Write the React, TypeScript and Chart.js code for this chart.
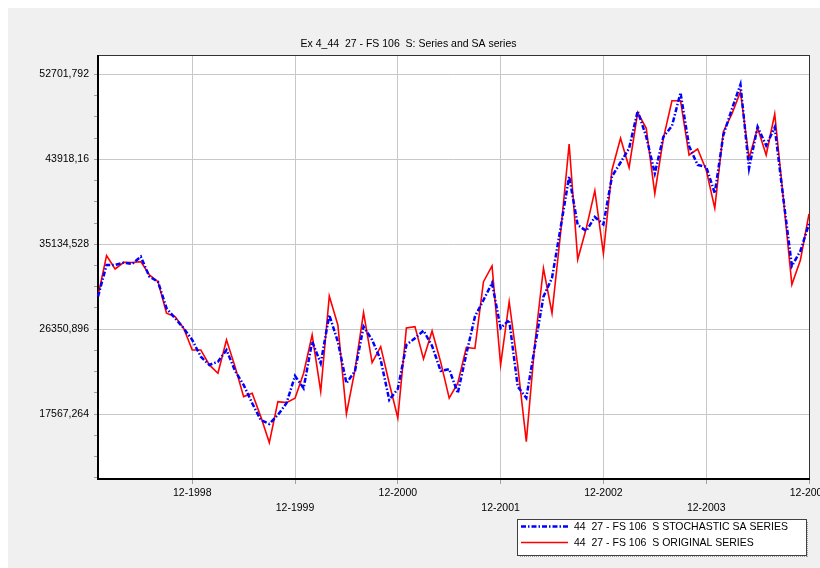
import React, { useEffect, useRef } from 'react';
import { Chart, registerables } from 'chart.js';

Chart.register(...registerables);

const TITLE = 'Ex 4_44  27 - FS 106  S: Series and SA series';
const SA_LABEL = '44  27 - FS 106  S STOCHASTIC SA SERIES';
const ORIG_LABEL = '44  27 - FS 106  S ORIGINAL SERIES';

const years = [1998, 1999, 2000, 2001, 2002, 2003, 2004];
const monthNums = ['01', '02', '03', '04', '05', '06', '07', '08', '09', '10', '11', '12'];
const months: string[] = years.flatMap((y) => monthNums.map((m) => `${m}-${y}`));

const saSeries = [
  29720, 32995, 32995, 33233, 33099, 33853, 31786, 31270, 28521, 27488, 26454, 25245,
  23519, 22662, 23003, 24212, 22042, 20595, 18704, 16978, 16565, 17495, 18704, 21525,
  20254, 25069, 22837, 27828, 25069, 20771, 22042, 26620, 25245, 23178, 19045, 20182,
  24728, 25421, 26206, 24625, 22042, 22217, 19737, 23798, 27653, 29379, 31135, 26454,
  27312, 20419, 19252, 24553, 29720, 31652, 36819, 42141, 37129, 36509, 37956, 37181,
  42141, 43587, 45055, 48909, 46254, 42471, 46254, 47359, 50800, 45292, 43329, 43153,
  40405, 46429, 49116, 51648, 42988, 47287, 45344, 47225, 39888, 32892, 34442, 37232,
];

const originalSeries = [
  29792, 33956, 32582, 33274, 33254, 33336, 31962, 31270, 28004, 27653, 26454, 24212,
  24212, 22662, 21804, 25245, 22486, 19386, 19737, 17319, 14632, 18869, 18766, 19221,
  21804, 25762, 19903, 29792, 26795, 17598, 22145, 28066, 22899, 24553, 20771, 17185,
  26485, 26620, 23282, 26175, 22972, 19221, 20771, 24470, 24367, 31270, 32892, 22662,
  29203, 22558, 14736, 24904, 32654, 28004, 36271, 45499, 33564, 36788, 40673, 34184,
  42812, 46088, 43071, 48754, 47122, 40384, 46088, 49974, 49974, 44362, 44982, 42812,
  38855, 46770, 48599, 50904, 44021, 47153, 44362, 48599, 39919, 30980, 33512, 38266,
];

const yMajorTicks = [17567.264, 26350.896, 35134.528, 43918.16, 52701.792];
const yTickLabels = ['17567,264', '26350,896', '35134,528', '43918,16', '52701,792'];
const xTickLabels = ['12-1998', '12-1999', '12-2000', '12-2001', '12-2002', '12-2003', '12-2004'];

const Y_MIN = 10870;
const Y_MAX = 54700;

const FONT = '"Liberation Sans", Arial, sans-serif';
const GRID = '#c8c8c8';
const TICK = '#a0a0a0';
const CLEAR = 'rgba(0,0,0,0)';

const yStep = yMajorTicks[1] - yMajorTicks[0];
const yAllTicks: { value: number; major: boolean }[] = [];
for (let k = -3; k <= 6 * 4; k++) {
  const v = yMajorTicks[0] + (k * yStep) / 4;
  if (v >= Y_MIN && v <= Y_MAX) yAllTicks.push({ value: v, major: k % 4 === 0 && k >= 0 && k / 4 < yMajorTicks.length });
}

const isDec = (i: number) => months[i] !== undefined && months[i].startsWith('12-');
const majorIndex = (v: number) => yMajorTicks.findIndex((t) => Math.abs(t - v) < 1e-3);

const bgPlugin = {
  id: 'bg',
  beforeDraw(chart: any) {
    const { ctx, chartArea } = chart;
    ctx.save();
    ctx.fillStyle = '#f0f0f0';
    ctx.fillRect(0, 0, chart.width, chart.height);
    ctx.fillStyle = '#ffffff';
    ctx.fillRect(chartArea.left, chartArea.top, chartArea.right - chartArea.left, chartArea.bottom - chartArea.top);
    ctx.restore();
  },
};

const framePlugin = {
  id: 'frame',
  beforeDatasetsDraw(chart: any) {
    const { ctx, chartArea: a } = chart;
    ctx.save();
    ctx.strokeStyle = '#333333';
    ctx.lineWidth = 1;
    ctx.beginPath();
    ctx.moveTo(a.left, a.top + 0.5);
    ctx.lineTo(a.right + 1, a.top + 0.5);
    ctx.moveTo(a.right + 0.5, a.top);
    ctx.lineTo(a.right + 0.5, a.bottom);
    ctx.stroke();
    ctx.strokeStyle = '#000000';
    ctx.lineWidth = 2;
    ctx.beginPath();
    ctx.moveTo(a.left, a.top);
    ctx.lineTo(a.left, a.bottom + 1);
    ctx.moveTo(a.left - 1, a.bottom);
    ctx.lineTo(a.right + 1, a.bottom);
    ctx.stroke();
    ctx.restore();
  },
};

const legendPlugin = {
  id: 'boxLegend',
  afterDraw(chart: any) {
    const { ctx } = chart;
    const x0 = 509;
    const y0 = 511;
    const w = 289;
    const h = 36;
    ctx.save();
    ctx.strokeStyle = '#a0a0a0';
    ctx.lineWidth = 1;
    ctx.setLineDash([1, 1]);
    ctx.beginPath();
    ctx.moveTo(x0 + 3, y0 + h + 1.5);
    ctx.lineTo(x0 + w + 2, y0 + h + 1.5);
    ctx.moveTo(x0 + w + 1.5, y0 + 3);
    ctx.lineTo(x0 + w + 1.5, y0 + h + 2);
    ctx.stroke();
    ctx.setLineDash([]);
    ctx.fillStyle = '#ffffff';
    ctx.fillRect(x0, y0, w, h);
    ctx.strokeStyle = '#404040';
    ctx.strokeRect(x0 + 0.5, y0 + 0.5, w, h);
    const ds = chart.data.datasets;
    const rows = [y0 + 7.5, y0 + 23.5];
    ds.forEach((d: any, i: number) => {
      ctx.strokeStyle = d.borderColor;
      ctx.lineWidth = d.borderWidth;
      ctx.setLineDash(d.borderDash || []);
      ctx.beginPath();
      ctx.moveTo(x0 + 4, rows[i]);
      ctx.lineTo(x0 + 51, rows[i]);
      ctx.stroke();
      ctx.setLineDash([]);
      ctx.fillStyle = '#000000';
      ctx.font = `10.5px ${FONT}`;
      ctx.textBaseline = 'middle';
      ctx.textAlign = 'left';
      ctx.fillText(d.label, x0 + 57, rows[i] + 0.5);
    });
    ctx.restore();
  },
};

export default function App() {
  const canvasRef = useRef<HTMLCanvasElement | null>(null);

  useEffect(() => {
    if (!canvasRef.current) return;
    const chart = new Chart(canvasRef.current, {
      type: 'line',
      data: {
        labels: months,
        datasets: [
          {
            label: SA_LABEL,
            data: saSeries,
            borderColor: '#0000ff',
            borderWidth: 2.5,
            borderDash: [5, 2, 1.5, 2],
            pointRadius: 0,
            tension: 0,
            fill: false,
          },
          {
            label: ORIG_LABEL,
            data: originalSeries,
            borderColor: '#ff0000',
            borderWidth: 1.6,
            pointRadius: 0,
            tension: 0,
            fill: false,
          },
        ],
      },
      options: {
        animation: false,
        responsive: false,
        maintainAspectRatio: false,
        devicePixelRatio: 1,
        layout: { padding: { left: 0, right: 11, top: 0, bottom: 0 } },
        plugins: {
          legend: { display: false },
          tooltip: { enabled: false },
          title: {
            display: true,
            text: TITLE,
            color: '#000000',
            font: { family: FONT, size: 10.5, weight: 'normal' as any },
            padding: { top: 29.7, bottom: 4.7 },
          },
        },
        scales: {
          x: {
            type: 'category',
            offset: false,
            grid: {
              color: (c: any) => (isDec(c.index) ? GRID : CLEAR),
              tickColor: (c: any) => (isDec(c.index) ? TICK : CLEAR),
              tickLength: 5,
            },
            border: { display: false },
            ticks: {
              autoSkip: false,
              maxRotation: 0,
              minRotation: 0,
              padding: 1.5,
              color: '#000000',
              font: { family: FONT, size: 10.5, lineHeight: 1.43 },
              callback: (_v: any, i: number) => {
                if (!isDec(i)) return '';
                const k = years.indexOf(Number(months[i].slice(3)));
                const lbl = xTickLabels[k];
                return k % 2 === 0 ? lbl : ['', lbl];
              },
            },
            afterFit: (s: any) => {
              s.height = 89;
              s.paddingLeft = 0;
              s.paddingRight = 0;
            },
          },
          y: {
            type: 'linear',
            min: Y_MIN,
            max: Y_MAX,
            afterBuildTicks: (s: any) => {
              s.ticks = yAllTicks.map((t) => ({ value: t.value, major: t.major }));
            },
            grid: {
              color: (c: any) => (c.tick && majorIndex(c.tick.value) >= 0 ? GRID : CLEAR),
              tickColor: TICK,
              tickLength: 4,
            },
            border: { display: false },
            ticks: {
              autoSkip: false,
              padding: 5,
              color: '#000000',
              font: { family: FONT, size: 10.5 },
              callback: (v: any) => {
                const idx = majorIndex(Number(v));
                return idx >= 0 ? yTickLabels[idx] : '';
              },
            },
            afterFit: (s: any) => {
              s.width = 90;
              s.paddingTop = 0;
              s.paddingBottom = 0;
            },
          },
        },
      },
      plugins: [bgPlugin, framePlugin, legendPlugin],
    });
    return () => chart.destroy();
  }, []);

  return (
    <div
      style={{
        position: 'absolute',
        left: 8,
        top: 8,
        width: 812,
        height: 560,
        overflow: 'hidden',
        background: '#f0f0f0',
      }}
    >
      <canvas ref={canvasRef} width={812} height={560} style={{ display: 'block', width: 812, height: 560 }} />
    </div>
  );
}
